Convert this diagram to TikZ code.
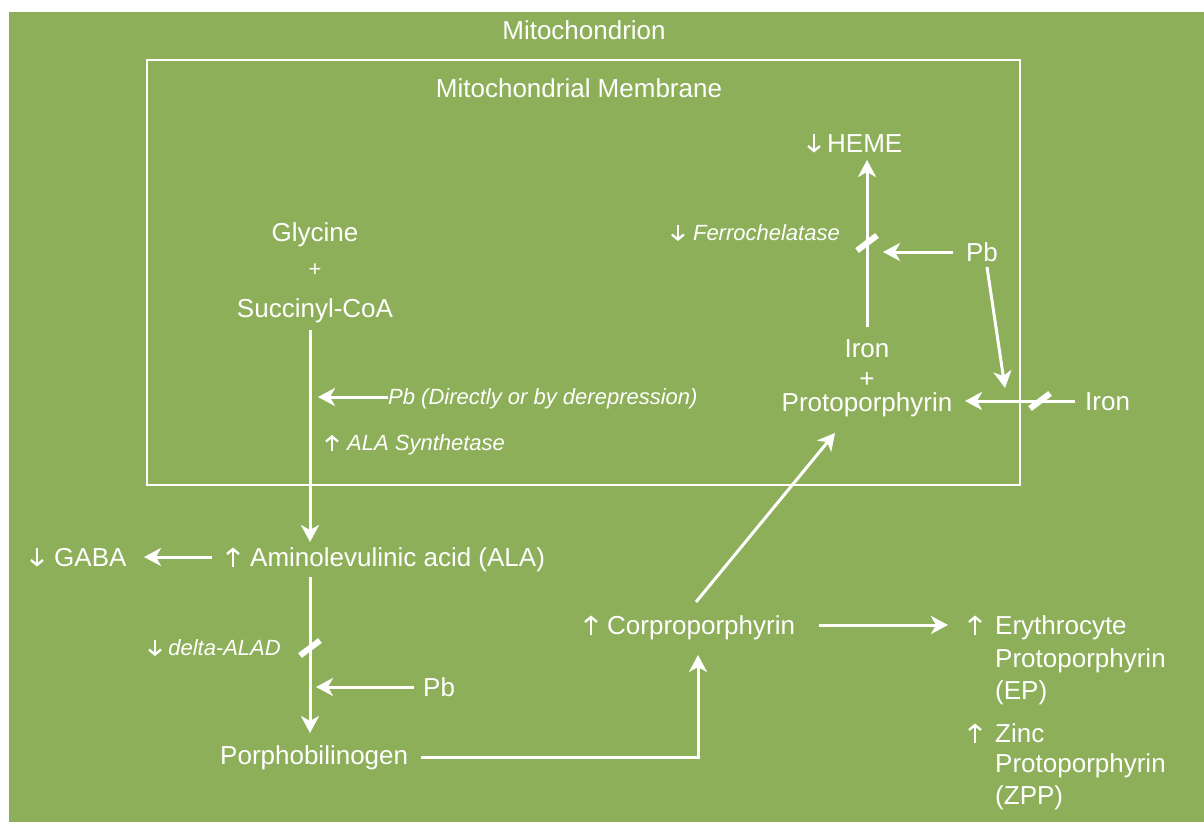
\documentclass[tikz,border=0pt]{standalone}
\usepackage{fontspec}
\setmainfont{Liberation Sans}
\usetikzlibrary{arrows.meta}
\definecolor{bggreen}{RGB}{142,175,90}
\tikzset{
  txt/.style={text=white, inner sep=0pt, font=\fontsize{26}{30}\selectfont, text height=18.7pt, text depth=0pt},
  itx/.style={text=white, inner sep=0pt, font=\fontsize{22}{26}\selectfont\itshape, text height=15.8pt, text depth=0pt},
  arr/.style={draw=white, line width=3pt, -{Stealth[length=17pt,width=18pt,inset=5pt]}},
  glyph/.style={draw=white, line width=2.3pt, -{Straight Barb[length=5pt,width=12pt]}},
  slash/.style={draw=white, line width=6pt},
  membrane/.style={draw=white, line width=2.5pt}
}
\begin{document}
\begin{tikzpicture}[x=1pt,y=-1pt]
\useasboundingbox (0,0) rectangle (1204,822);
\fill[white] (0,0) rectangle (1204,822);
\fill[bggreen] (9,12) rectangle (1204,822);

% titles and membrane
\node[txt] (mito) at (584,30) {Mitochondrion};
\node[txt] (memb) at (579,88) {Mitochondrial Membrane};
\draw[membrane] (147,60) rectangle (1020,485);

% left pathway
\node[txt] (gly) at (315,232) {Glycine};
\node[txt, font=\fontsize{22}{26}\selectfont, text height=13pt] (plusG) at (315,270) {+};
\node[txt] (succ) at (315,308) {Succinyl-CoA};
\node[itx, anchor=west] (pbD) at (388,397) {Pb (Directly or by derepression)};
\node[itx, anchor=west] (alas) at (347,443) {ALA Synthetase};

\node[txt, anchor=west] (gaba) at (54,557) {GABA};
\node[txt, anchor=west] (ala) at (250,557) {Aminolevulinic acid (ALA)};
\node[itx, anchor=east] (alad) at (281,648) {delta-ALAD};
\node[txt, anchor=west] (pbL) at (423,687) {Pb};
\node[txt, anchor=west] (porpho) at (220,755) {Porphobilinogen};

\node[txt, anchor=west] (corpro) at (607,625) {Corproporphyrin};
\node[txt, anchor=west] (ery) at (995,625) {Erythrocyte};
\node[txt, anchor=west] (ep1) at (995,658) {Protoporphyrin};
\node[txt, anchor=west] (ep2) at (995,690) {(EP)};
\node[txt, anchor=west] (zinc) at (995,733) {Zinc};
\node[txt, anchor=west] (zp1) at (995,763) {Protoporphyrin};
\node[txt, anchor=west] (zp2) at (995,795) {(ZPP)};

% right pathway
\node[txt, anchor=west] (heme) at (827,143) {HEME};
\node[itx, anchor=east] (ferro) at (840,233) {Ferrochelatase};
\node[txt] (pbH) at (982,252) {Pb};
\node[txt] (ironI) at (867,348) {Iron};
\node[txt] (plusI) at (867,378) {+};
\node[txt] (proto) at (867,402) {Protoporphyrin};
\node[txt, anchor=west] (ironR) at (1085,401) {Iron};

% up / down marks in front of labels
\draw[glyph] ([xshift=-13pt]heme.west) ++(0,-9.5) -- ++(0,19);
\draw[glyph] ([xshift=-15pt]ferro.west) ++(0,-8) -- ++(0,16);
\draw[glyph] ([xshift=-15pt]alas.west) ++(0,8) -- ++(0,-16);
\draw[glyph] ([xshift=-17pt]gaba.west) ++(0,-9.5) -- ++(0,19);
\draw[glyph] ([xshift=-17pt]ala.west) ++(0,9.5) -- ++(0,-19);
\draw[glyph] ([xshift=-126pt]alad.east) ++(0,-8) -- ++(0,16);
\draw[glyph] ([xshift=-16pt]corpro.west) ++(0,9.5) -- ++(0,-19);
\draw[glyph] ([xshift=-20pt]ery.west) ++(0,9.5) -- ++(0,-19);
\draw[glyph] ([xshift=-20pt]zinc.west) ++(0,9.5) -- ++(0,-19);

% connector coordinates
\coordinate (s1) at (310,330);
\coordinate (s2) at (310,542);
\coordinate (a1) at (310,577);
\coordinate (a2) at (310,733);
\coordinate (aladslash) at (310,648);
\coordinate (pbDtip) at (318,397);
\coordinate (gabatip) at (144,557);
\coordinate (alaleft) at (212,557);
\coordinate (pbLtip) at (316,687);
\coordinate (pbLstart) at (414,687);
\coordinate (p1) at (421,757);
\coordinate (p2) at (698,757);
\coordinate (p3) at (698,655);
\coordinate (c1) at (819,625);
\coordinate (c2) at (948,625);
\coordinate (d1) at (696,602);
\coordinate (d2) at (835,433);
\coordinate (h1) at (867,327);
\coordinate (h2) at (867,160);
\coordinate (ferroslash) at (867,243);
\coordinate (pbH1) at (953,252);
\coordinate (pbH2) at (883,252);
\coordinate (pbH3) at (987,267);
\coordinate (pbH4) at (1005,388);
\coordinate (i1) at (1075,401);
\coordinate (i2) at (965,401);
\coordinate (ironslash) at (1040,401);

% connectors
\draw[arr] (s1) -- (s2);
\draw[arr] (pbD.west) -- (pbDtip);
\draw[arr] (alaleft) -- (gabatip);
\draw[arr] (a1) -- (a2);
\draw[slash] (aladslash) ++(-10,7.5) -- ++(20,-15);
\draw[arr] (pbLstart) -- (pbLtip);
\draw[arr] (p1) -- (p2) -- (p3);
\draw[arr] (c1) -- (c2);
\draw[arr] (d1) -- (d2);
\draw[arr] (h1) -- (h2);
\draw[slash] (ferroslash) ++(-10,7.5) -- ++(20,-15);
\draw[arr] (pbH1) -- (pbH2);
\draw[arr] (pbH3) -- (pbH4);
\draw[arr] (i1) -- (i2);
\draw[slash] (ironslash) ++(-10,7.5) -- ++(20,-15);
\end{tikzpicture}
\end{document}
